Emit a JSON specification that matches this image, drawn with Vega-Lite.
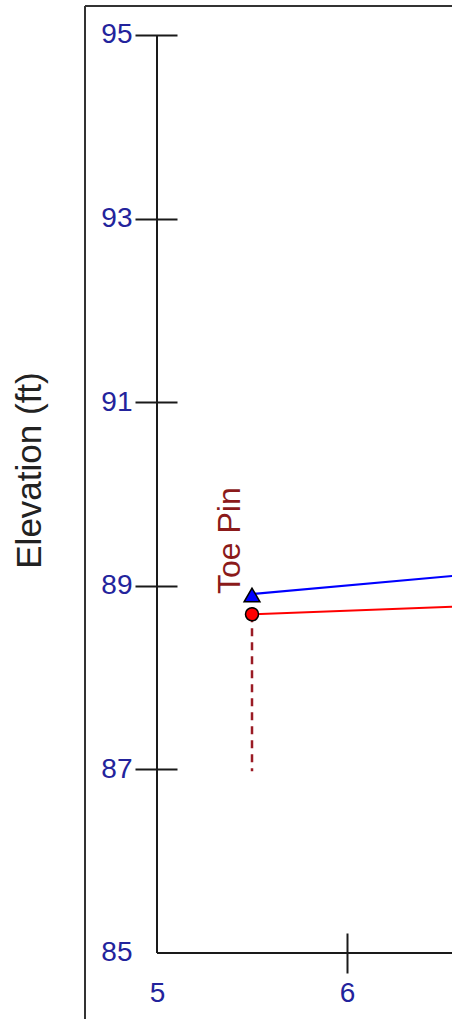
{
  "$schema": "https://vega.github.io/schema/vega-lite/v6.json",
  "width": 367,
  "height": 1013,
  "autosize": {"type": "none"},
  "padding": {"left": 85, "top": 6, "right": 0, "bottom": 0},
  "background": "white",
  "config": {"view": {"stroke": null}, "font": "Liberation Sans"},
  "datasets": {
    "profile": [
      {"station": 5.5, "elevation": 88.91, "series": "Survey 1"},
      {"station": 6.6, "elevation": 89.116, "series": "Survey 1"},
      {"station": 5.5, "elevation": 88.69, "series": "Survey 2"},
      {"station": 6.6, "elevation": 88.776, "series": "Survey 2"}
    ],
    "markers": [
      {"station": 5.5, "elevation": 88.9, "series": "Survey 1"},
      {"station": 5.5, "elevation": 88.69, "series": "Survey 2"}
    ],
    "pins": [
      {"station": 5.5, "top": 88.69, "bottom": 86.98, "label": "Toe Pin", "labelElevation": 88.91}
    ],
    "one": [{}]
  },
  "layer": [
    {
      "data": {"name": "profile"},
      "mark": {"type": "line", "strokeWidth": 2, "clip": true},
      "encoding": {
        "x": {
          "field": "station", "type": "quantitative",
          "scale": {"domain": [4.62105, 6.55263], "nice": false, "zero": false},
          "axis": {
            "values": [5, 6, 7], "format": "d", "offset": -86, "domain": false, "grid": false,
            "tickSize": 40, "tickWidth": 2, "tickColor": "#1a1a1a",
            "tickOpacity": {"condition": {"test": "datum.value == 5", "value": 0}, "value": 1},
            "labelFont": "Liberation Sans", "labelFontSize": 28, "labelColor": "#23239c",
            "labelPadding": 6, "labelFlush": false, "labelOverlap": false, "title": null
          }
        },
        "y": {
          "field": "elevation", "type": "quantitative",
          "scale": {"domain": [84.281, 95.3159], "nice": false, "zero": false},
          "axis": {
            "values": [85, 87, 89, 91, 93, 95], "format": "d", "offset": -92, "domain": false, "grid": false,
            "tickSize": 42, "tickWidth": 2, "tickColor": "#1a1a1a",
            "tickOpacity": {"condition": {"test": "datum.value == 85", "value": 0}, "value": 1},
            "labelFont": "Liberation Sans", "labelFontSize": 28, "labelColor": "#23239c",
            "labelPadding": 3, "labelOverlap": false, "labelFlush": false,
            "title": "Elevation (ft)", "titleFont": "Liberation Sans", "titleFontSize": 35,
            "titleFontWeight": "normal", "titleColor": "#222222", "titleAngle": 270,
            "titleAlign": "center", "titleBaseline": "alphabetic", "titleX": -137, "titleY": 464
          }
        },
        "color": {
          "field": "series", "type": "nominal",
          "scale": {"domain": ["Survey 1", "Survey 2"], "range": ["#0000ff", "#ff0000"]},
          "legend": null
        }
      }
    },
    {
      "data": {"name": "pins"},
      "mark": {"type": "rule", "color": "#9a1b24", "strokeWidth": 2.5, "strokeDash": [8, 6]},
      "encoding": {
        "x": {"field": "station", "type": "quantitative"},
        "y": {"field": "top", "type": "quantitative"},
        "y2": {"field": "bottom"}
      }
    },
    {
      "data": {"name": "one"},
      "mark": {"type": "rule", "color": "#333333", "strokeWidth": 2},
      "encoding": {"x": {"datum": 4.62105, "type": "quantitative"}}
    },
    {
      "data": {"name": "one"},
      "mark": {"type": "rule", "color": "#333333", "strokeWidth": 2},
      "encoding": {"y": {"datum": 95.3159, "type": "quantitative"}}
    },
    {
      "data": {"name": "one"},
      "mark": {"type": "rule", "color": "#1a1a1a", "strokeWidth": 2},
      "encoding": {
        "x": {"datum": 5, "type": "quantitative"},
        "y": {"datum": 85, "type": "quantitative"},
        "y2": {"datum": 95}
      }
    },
    {
      "data": {"name": "one"},
      "mark": {"type": "rule", "color": "#1a1a1a", "strokeWidth": 2, "clip": true},
      "encoding": {
        "x": {"datum": 5, "type": "quantitative"},
        "x2": {"datum": 6.6},
        "y": {"datum": 85, "type": "quantitative"}
      }
    },
    {
      "data": {"name": "markers"},
      "mark": {"type": "point", "filled": true, "opacity": 1, "stroke": "#000000", "strokeWidth": 1.5},
      "encoding": {
        "x": {"field": "station", "type": "quantitative"},
        "y": {"field": "elevation", "type": "quantitative"},
        "fill": {
          "field": "series", "type": "nominal",
          "scale": {"domain": ["Survey 1", "Survey 2"], "range": ["#0000ff", "#ff0000"]},
          "legend": null
        },
        "shape": {
          "field": "series", "type": "nominal",
          "scale": {"domain": ["Survey 1", "Survey 2"], "range": ["triangle-up", "circle"]},
          "legend": null
        },
        "size": {
          "field": "series", "type": "nominal",
          "scale": {"domain": ["Survey 1", "Survey 2"], "range": [250, 170]},
          "legend": null
        }
      }
    },
    {
      "data": {"name": "pins"},
      "mark": {"type": "text", "angle": 270, "align": "left", "baseline": "alphabetic", "dy": -12, "font": "Liberation Sans", "fontSize": 32, "color": "#8b1a1a"},
      "encoding": {
        "x": {"field": "station", "type": "quantitative"},
        "y": {"field": "labelElevation", "type": "quantitative"},
        "text": {"field": "label"}
      }
    }
  ]
}
